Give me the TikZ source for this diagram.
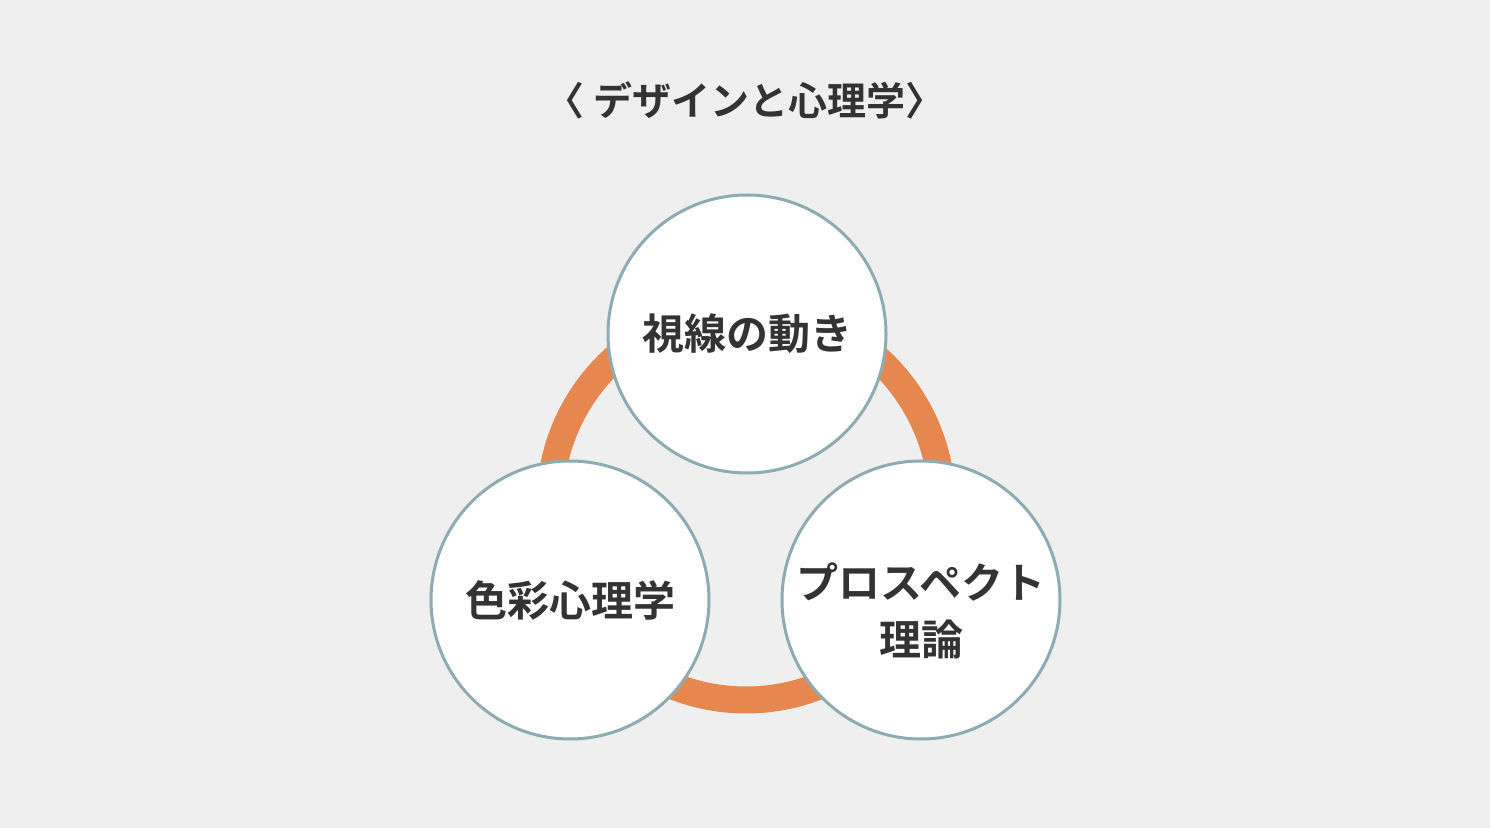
\documentclass[tikz,border=0pt]{standalone}
\usepackage{fontspec}
\newfontfamily\jp{Noto Sans CJK JP}[BoldFont={Noto Sans CJK JP Bold}]
\definecolor{bggray}{HTML}{EFEFEF}
\definecolor{ringorange}{HTML}{E5874F}
\definecolor{rimblue}{HTML}{8DABB1}
\definecolor{inkgray}{HTML}{333333}
\begin{document}
\begin{tikzpicture}[x=0.5pt,y=-0.5pt,
  topicfont/.style={align=center,text=inkgray,
    font=\jp\bfseries\fontsize{21}{28.5}\selectfont},
  topic/.style={circle,draw=rimblue,line width=1.5pt,fill=white,
    minimum size=139pt,inner sep=0pt,topicfont}]
\fill[bggray] (0,0) rectangle (1490,828);
\useasboundingbox (0,0) rectangle (1490,828);

\node[text=inkgray,font=\jp\bfseries\fontsize{19.5}{24}\selectfont] (title) at (745,100) {〈 デザインと心理学〉};

% ring behind the three circles
\coordinate (hub) at (746,504);
\draw[ringorange,line width=13.5pt] (hub) circle[radius=98pt];

\node[topic] (gaze) at (747,334) {視線の動き};
\node[topic] (color) at (570,600) {色彩心理学};
\node[topic] (prospect) at (921,600) {};
\node[topicfont] (prospectname) at ([yshift=-5.5pt]prospect.center) {プロスペクト\\理論};
\end{tikzpicture}
\end{document}
